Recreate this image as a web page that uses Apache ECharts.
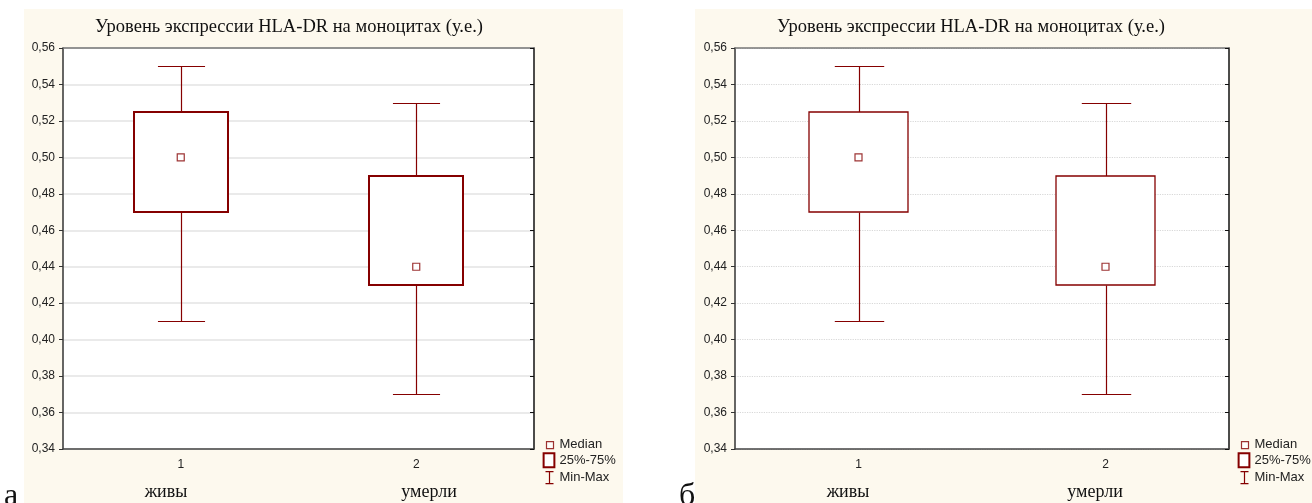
<!DOCTYPE html>
<html>
<head>
<meta charset="utf-8">
<script src="https://cdn.jsdelivr.net/npm/echarts@6/dist/echarts.min.js"></script>
<style>
html,body{margin:0;padding:0;background:#fff;}
#c{width:1312px;height:503px;}
</style>
</head>
<body>
<div id="c"></div>
<script>
// ---- data ----
const categories = ['1', '2'];
const groupNames = ['живы', 'умерли'];
const chartTitle = 'Уровень экспрессии HLA-DR на моноцитах (у.е.)';
const minValues = [0.41, 0.37];
const q1Values = [0.47, 0.43];
const medianValues = [0.50, 0.44];
const q3Values = [0.525, 0.49];
const maxValues = [0.55, 0.53];
const yMin = 0.34, yMax = 0.56, yStep = 0.02;
const panelLetters = ['а', 'б'];

const RED = '#850000';
const boxData = categories.map((c, i) => [i, q1Values[i], q3Values[i]]);
const whiskerData = categories.map((c, i) => [i, minValues[i], q1Values[i], q3Values[i], maxValues[i]]);
const medianData = categories.map((c, i) => [i, medianValues[i]]);

const chart = echarts.init(document.getElementById('c'), null, {renderer: 'canvas'});

const panels = [
  {left: 63, width: 471, boxLW: 2, gridType: 'solid', gridColor: '#e3e3e3', gridW: 1.5, legendLeft: 541,
   namesX: [166, 429], titleX: 284, letterX: 4, bgX: 24, bgW: 599},
  {left: 735, width: 494, boxLW: 1.3, gridType: 'dotted', gridColor: '#d8d8d8', gridW: 1.2, legendLeft: 1236,
   namesX: [848, 1095], titleX: 966, letterX: 679, bgX: 695, bgW: 617}
];

const fmt = v => v.toFixed(2).replace('.', ',');

const grid = [], xAxis = [], yAxis = [], series = [], legend = [], graphic = [], title = [];

panels.forEach((p, k) => {
  graphic.push({type: 'rect', z: -10, silent: true, shape: {x: p.bgX, y: 9, width: p.bgW, height: 494},
    style: {fill: '#fdf9ee'}});
  grid.push({left: p.left, top: 48, width: p.width, height: 401, show: true, backgroundColor: '#ffffff', borderWidth: 0});
  title.push({text: chartTitle, left: p.titleX, top: 13, textAlign: 'center',
    textStyle: {fontFamily: 'Liberation Serif', fontWeight: 'normal', fontSize: 18.5, color: '#111'}});
  xAxis.push({type: 'category', gridIndex: k, data: categories, position: 'bottom',
    axisLine: {lineStyle: {color: '#444', width: 1.5}},
    axisTick: {inside: true, length: 3, alignWithLabel: true, lineStyle: {color: '#333'}},
    axisLabel: {fontFamily: 'Liberation Sans', fontSize: 12, color: '#222', margin: 10},
    splitLine: {show: false}});
  xAxis.push({type: 'category', gridIndex: k, data: categories, position: 'top',
    axisLine: {lineStyle: {color: '#777', width: 1.5}},
    axisTick: {inside: true, length: 3, alignWithLabel: true, lineStyle: {color: '#333'}},
    axisLabel: {show: false}, splitLine: {show: false}});
  yAxis.push({type: 'value', gridIndex: k, min: yMin, max: yMax, interval: yStep, position: 'left',
    axisLine: {show: true, lineStyle: {color: '#333', width: 1.5}},
    axisTick: {show: true, length: 4, lineStyle: {color: '#333'}},
    axisLabel: {formatter: fmt, fontFamily: 'Liberation Sans', fontSize: 12, color: '#222', margin: 8},
    splitLine: {show: true, lineStyle: {color: p.gridColor, width: p.gridW, type: p.gridType}}});
  yAxis.push({type: 'value', gridIndex: k, min: yMin, max: yMax, interval: yStep, position: 'right',
    axisLine: {show: true, lineStyle: {color: '#111', width: 1.5}},
    axisTick: {show: true, inside: true, length: 4, lineStyle: {color: '#111'}},
    axisLabel: {show: false}, splitLine: {show: false}});

  const xi = k * 2, yi = k * 2;
  series.push({
    name: 'Min-Max', type: 'custom', xAxisIndex: xi, yAxisIndex: yi, data: whiskerData,
    encode: {x: 0, y: [1, 2, 3, 4]}, z: 3,
    itemStyle: {color: RED},
    renderItem: function (params, api) {
      const i = api.value(0);
      const pMin = api.coord([i, api.value(1)]);
      const pQ1 = api.coord([i, api.value(2)]);
      const pQ3 = api.coord([i, api.value(3)]);
      const pMax = api.coord([i, api.value(4)]);
      const band = api.size([1, 0])[0];
      const cap = band * 0.2;
      const x = Math.round(pMin[0]) + 0.5;
      const st = {stroke: RED, lineWidth: 1.2, fill: null};
      const r = v => Math.round(v) + 0.5;
      return {type: 'group', children: [
        {type: 'line', shape: {x1: x, y1: r(pMax[1]), x2: x, y2: r(pQ3[1])}, style: st},
        {type: 'line', shape: {x1: x - cap / 2, y1: r(pMax[1]), x2: x + cap / 2, y2: r(pMax[1])}, style: st},
        {type: 'line', shape: {x1: x, y1: r(pQ1[1]), x2: x, y2: r(pMin[1])}, style: st},
        {type: 'line', shape: {x1: x - cap / 2, y1: r(pMin[1]), x2: x + cap / 2, y2: r(pMin[1])}, style: st}
      ]};
    }
  });
  series.push({
    name: '25%-75%', type: 'custom', xAxisIndex: xi, yAxisIndex: yi, data: boxData,
    encode: {x: 0, y: [1, 2]}, z: 4,
    itemStyle: {color: RED},
    renderItem: (function (lw) {
      return function (params, api) {
        const i = api.value(0);
        const pQ1 = api.coord([i, api.value(1)]);
        const pQ3 = api.coord([i, api.value(2)]);
        const band = api.size([1, 0])[0];
        const bw = band * 0.4;
        return {type: 'rect',
          shape: {x: Math.round(pQ1[0] - bw / 2), y: Math.round(pQ3[1]), width: Math.round(bw), height: Math.round(pQ1[1] - pQ3[1])},
          style: {fill: '#ffffff', stroke: RED, lineWidth: lw}};
      };
    })(p.boxLW)
  });
  series.push({
    name: 'Median', type: 'scatter', xAxisIndex: xi, yAxisIndex: yi, data: medianData,
    symbol: 'rect', symbolSize: 7, z: 5,
    itemStyle: {color: '#ffffff', borderColor: RED, borderWidth: 1.2}
  });

  legend.push({
    orient: 'vertical', left: p.legendLeft, top: 437, height: 64, padding: 0, itemGap: 0, itemWidth: 11, itemHeight: 14,
    selectedMode: false, symbolKeepAspect: true,
    textStyle: {fontFamily: 'Liberation Sans', fontSize: 13, color: '#222', padding: [0, 0, 0, 0], lineHeight: 14},
    data: [
      {name: 'Median', icon: 'path://M0,0M11,14M3,4H10V11H3Z',
        itemStyle: {color: '#ffffff', borderColor: RED, borderWidth: 1.2}},
      {name: '25%-75%', icon: 'path://M1,1H11V14H1Z',
        itemStyle: {color: '#ffffff', borderColor: RED, borderWidth: 2}},
      {name: 'Min-Max', icon: 'path://M0,0M11,14M2,1H10M6,1V13M2,13H10',
        itemStyle: {color: 'none', borderColor: RED, borderWidth: 1.2}}
    ]
  });

  groupNames.forEach((g, j) => {
    graphic.push({type: 'text', x: p.namesX[j], y: 492, silent: true,
      style: {text: g, fontFamily: 'Liberation Serif', fontSize: 18, fill: '#111', align: 'center', verticalAlign: 'middle'}});
  });
  graphic.push({type: 'text', x: p.letterX, y: 513, silent: true,
    style: {text: panelLetters[k], fontFamily: 'Liberation Serif', fontSize: 32, fill: '#111', align: 'left', verticalAlign: 'bottom'}});
});

chart.setOption({
  animation: false,
  backgroundColor: '#ffffff',
  title, grid, xAxis, yAxis, series, legend, graphic
});
</script>
</body>
</html>
